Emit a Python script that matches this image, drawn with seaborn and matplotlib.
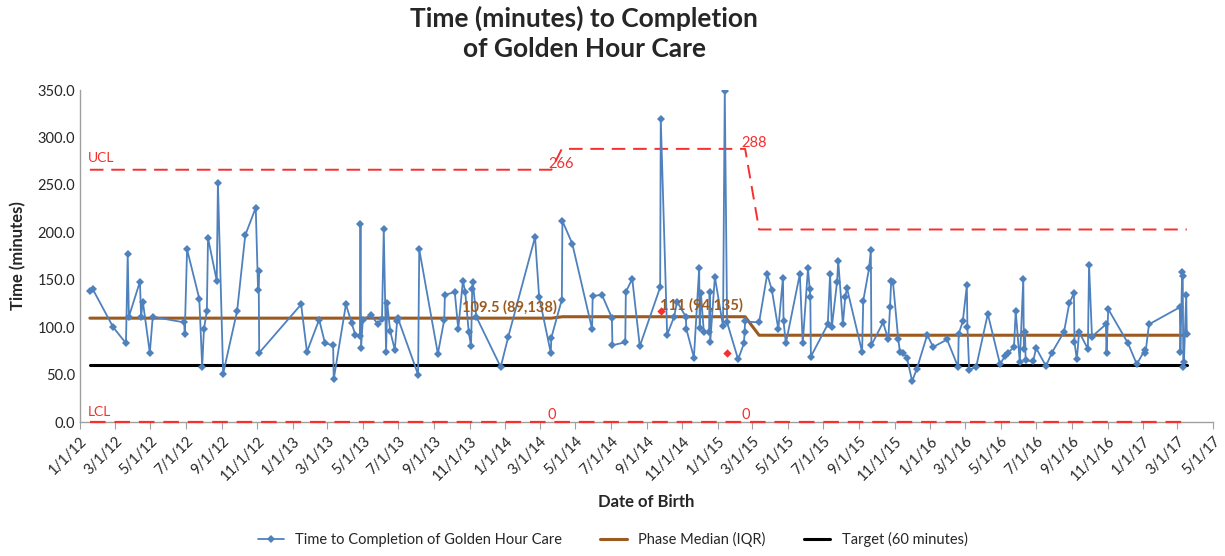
import pandas as pd
import numpy as np
import matplotlib
matplotlib.use('Agg')
import matplotlib.pyplot as plt
import matplotlib.dates as mdates
import seaborn as sns

# data (date of birth, minutes)
dates = ['2012-01-18', '2012-01-23', '2012-02-27', '2012-03-20', '2012-03-23', '2012-03-25',
         '2012-04-13', '2012-04-15', '2012-04-18', '2012-04-30', '2012-05-05', '2012-06-28',
         '2012-06-29', '2012-07-03', '2012-07-24', '2012-07-29', '2012-08-01', '2012-08-06',
         '2012-08-08', '2012-08-23', '2012-08-25', '2012-09-03', '2012-09-27', '2012-10-11',
         '2012-10-29', '2012-11-02', '2012-11-03', '2012-11-04', '2013-01-15', '2013-01-25',
         '2013-02-15', '2013-02-25', '2013-03-11', '2013-03-12', '2013-04-02', '2013-04-12',
         '2013-04-18', '2013-04-26', '2013-04-27', '2013-04-28', '2013-05-01', '2013-05-15',
         '2013-05-27', '2013-06-03', '2013-06-06', '2013-06-10', '2013-06-12', '2013-06-17',
         '2013-06-25', '2013-06-29', '2013-06-30', '2013-08-04', '2013-08-06', '2013-09-07',
         '2013-09-18', '2013-09-19', '2013-10-06', '2013-10-12', '2013-10-20', '2013-10-24',
         '2013-10-30', '2013-11-03', '2013-11-05', '2013-11-06', '2013-11-12', '2013-12-24',
         '2014-01-06', '2014-02-21', '2014-02-28', '2014-03-20', '2014-03-21', '2014-04-08',
         '2014-04-09', '2014-04-26', '2014-05-30', '2014-05-31', '2014-06-16', '2014-07-03',
         '2014-07-04', '2014-07-26', '2014-07-27', '2014-08-07', '2014-08-20', '2014-09-24',
         '2014-09-25', '2014-10-06', '2014-10-18', '2014-10-23', '2014-11-07', '2014-11-08',
         '2014-11-21', '2014-11-30', '2014-12-01', '2014-12-03', '2014-12-08', '2014-12-17',
         '2014-12-18', '2014-12-19', '2014-12-27', '2015-01-10', '2015-01-13', '2015-01-17',
         '2015-02-05', '2015-02-15', '2015-02-16', '2015-02-17', '2015-03-13', '2015-03-27',
         '2015-04-04', '2015-04-15', '2015-04-23', '2015-04-24', '2015-04-28', '2015-05-22',
         '2015-05-27', '2015-06-05', '2015-06-08', '2015-06-09', '2015-06-10', '2015-07-09',
         '2015-07-13', '2015-07-16', '2015-07-25', '2015-07-27', '2015-08-04', '2015-08-08',
         '2015-08-11', '2015-09-06', '2015-09-08', '2015-09-18', '2015-09-21', '2015-09-22',
         '2015-10-12', '2015-10-21', '2015-10-24', '2015-10-26', '2015-10-29', '2015-11-07',
         '2015-11-10', '2015-11-15', '2015-11-22', '2015-12-01', '2015-12-09', '2015-12-27',
         '2016-01-06', '2016-01-30', '2016-02-18', '2016-02-19', '2016-02-26', '2016-03-04',
         '2016-03-05', '2016-03-08', '2016-03-20', '2016-04-09', '2016-04-30', '2016-05-09',
         '2016-05-14', '2016-05-24', '2016-05-27', '2016-06-03', '2016-06-09', '2016-06-10',
         '2016-06-12', '2016-06-13', '2016-06-26', '2016-07-01', '2016-07-18', '2016-07-28',
         '2016-08-18', '2016-08-27', '2016-09-04', '2016-09-05', '2016-09-09', '2016-09-13',
         '2016-09-28', '2016-09-30', '2016-10-05', '2016-10-29', '2016-10-30', '2016-11-02',
         '2016-12-06', '2016-12-21', '2017-01-04', '2017-01-05', '2017-01-11', '2017-03-05',
         '2017-03-06', '2017-03-09', '2017-03-10', '2017-03-11', '2017-03-12', '2017-03-16',
         '2017-03-17']
minutes = [138, 140, 100, 83, 177, 111, 148, 111, 127, 73, 111, 105,
           93, 182, 130, 58, 98, 117, 194, 149, 252, 51, 117, 197,
           226, 139, 159, 73, 124, 74, 108, 83, 81, 45, 124, 104,
           92, 91, 209, 78, 108, 113, 103, 109, 203, 74, 125, 96,
           76, 107, 110, 50, 182, 72, 108, 134, 137, 98, 149, 137,
           95, 80, 140, 148, 111, 58, 90, 195, 132, 73, 89, 129,
           212, 188, 98, 133, 134, 110, 81, 84, 137, 151, 80, 142,
           320, 92, 111, 127, 111, 98, 68, 162, 99, 136, 95, 95,
           137, 84, 153, 101, 349, 105, 66, 83, 95, 106, 105, 156,
           139, 98, 152, 106, 83, 156, 83, 162, 140, 132, 69, 103,
           156, 100, 148, 170, 103, 132, 141, 74, 128, 162, 181, 81,
           105, 87, 121, 149, 148, 88, 74, 73, 68, 43, 56, 92,
           79, 87, 58, 93, 106, 144, 100, 55, 58, 114, 61, 70,
           73, 79, 117, 63, 151, 77, 95, 65, 64, 78, 59, 73,
           95, 125, 136, 84, 66, 95, 77, 166, 90, 103, 73, 119,
           83, 61, 76, 73, 103, 121, 74, 158, 154, 58, 63, 134,
           93]

# flagged points (red)
flag_dates = ['2014-09-25', '2015-01-17']
flag_minutes = [117, 73]

# phases: last date of each phase, median, UCL, LCL
phase_ends = ['2014-03-21', '2015-02-17', '2017-12-31']
phase_median = [109.5, 111, 91.5]
phase_ucl = [266, 288, 203]
phase_lcl = [0, 0, 0]
phase_labels = ['109.5 (89,138)', '111 (94,135)', None]
target = 60

df = pd.DataFrame({'date': pd.to_datetime(dates), 'minutes': minutes})
ends = pd.to_datetime(phase_ends)
df['phase'] = np.searchsorted(ends.values, df['date'].values, side='left')
df['median'] = np.array(phase_median)[df['phase']]
df['ucl'] = np.array(phase_ucl)[df['phase']]
df['lcl'] = np.array(phase_lcl)[df['phase']]
df['target'] = target

sns.set_style('white')
plt.rcParams['font.family'] = ['Lato', 'DejaVu Sans']

blue = '#4F81BD'
brown = '#9C5A1E'
red = '#F5302E'

fig = plt.figure(figsize=(12.25, 5.56), dpi=100)
ax = fig.add_axes([0.0653, 0.241, 0.9249, 0.597])

sns.lineplot(data=df, x='date', y='ucl', ax=ax, color=red, linestyle=(0, (7, 4)), lw=1.4, legend=False)
sns.lineplot(data=df, x='date', y='lcl', ax=ax, color=red, linestyle=(0, (7, 4)), lw=1.6, legend=False,
             zorder=6, clip_on=False)
sns.lineplot(data=df, x='date', y='target', ax=ax, color='black', lw=2.2,
             label='Target (60 minutes)')
sns.lineplot(data=df, x='date', y='median', ax=ax, color=brown, lw=2.2,
             label='Phase Median (IQR)')
sns.lineplot(data=df, x='date', y='minutes', ax=ax, color=blue, lw=1.3, marker='D',
             markersize=4.5, markeredgewidth=0, sort=False,
             label='Time to Completion of Golden Hour Care')
ax.scatter(pd.to_datetime(flag_dates), flag_minutes, marker='D', s=18, color=red, zorder=5, linewidths=0)

# control limit labels
ax.text(pd.Timestamp('2012-01-14'), 272, 'UCL', color=red, fontsize=10, va='bottom')
ax.text(pd.Timestamp('2012-01-14'), 4, 'LCL', color=red, fontsize=10, va='bottom')
starts = [df['date'].min()] + list(df.groupby('phase')['date'].min())[1:]
phase_last = list(df.groupby('phase')['date'].max())
label_pos = [0.91, 0.76]
for i in range(2):
    ax.text(phase_last[i] - pd.Timedelta(days=6), phase_ucl[i] - 1, str(phase_ucl[i]), color=red,
            fontsize=10.5, va='bottom', ha='left')
    ax.text(phase_last[i] - pd.Timedelta(days=6), 0, str(phase_lcl[i]), color=red, fontsize=10.5,
            va='bottom', ha='left')
    mid = starts[i] + (phase_last[i] - starts[i]) * label_pos[i]
    ax.text(mid, phase_median[i] + 4, phase_labels[i], color=brown, fontsize=10.5,
            fontweight='bold', va='bottom', ha='center')

ax.set_xlim(pd.Timestamp('2012-01-01'), pd.Timestamp('2017-05-01'))
ax.set_ylim(0, 350)
ax.set_yticks(np.arange(0, 351, 50))
ax.yaxis.set_major_formatter(matplotlib.ticker.FormatStrFormatter('%.1f'))
ax.xaxis.set_major_locator(mdates.MonthLocator(bymonth=[1, 3, 5, 7, 9, 11]))
ax.xaxis.set_major_formatter(matplotlib.ticker.FuncFormatter(
    lambda v, p: '{d.month}/{d.day}/{y}'.format(d=mdates.num2date(v), y=mdates.num2date(v).strftime('%y'))))
for lbl in ax.get_xticklabels():
    lbl.set_rotation(45)
    lbl.set_ha('right')
    lbl.set_rotation_mode('anchor')
ax.tick_params(axis='x', length=5, color='#A0A0A0', labelsize=10.5, direction='out', bottom=True)
ax.tick_params(axis='y', length=0, labelsize=10.5)

for s in ['top', 'right']:
    ax.spines[s].set_visible(False)
for s in ['left', 'bottom']:
    ax.spines[s].set_color('#A0A0A0')
    ax.spines[s].set_linewidth(1)

ax.set_xlabel('Date of Birth', fontsize=12, fontweight='bold', labelpad=8)
ax.set_ylabel('Time (minutes)', fontsize=12, fontweight='bold', labelpad=8)
fig.text(0.477, 0.99, 'Time (minutes) to Completion\nof Golden Hour Care', fontsize=19,
         fontweight='bold', ha='center', va='top', linespacing=1.3)

h, l = ax.get_legend_handles_labels()
order = [l.index('Time to Completion of Golden Hour Care'), l.index('Phase Median (IQR)'),
         l.index('Target (60 minutes)')]
ax.legend([h[i] for i in order], [l[i] for i in order], loc='lower center',
          bbox_to_anchor=(0.5, -0.008), bbox_transform=fig.transFigure, ncol=3, frameon=False,
          fontsize=10.5, handlelength=1.8, columnspacing=2.6)

fig.savefig('out.png', dpi=100)
